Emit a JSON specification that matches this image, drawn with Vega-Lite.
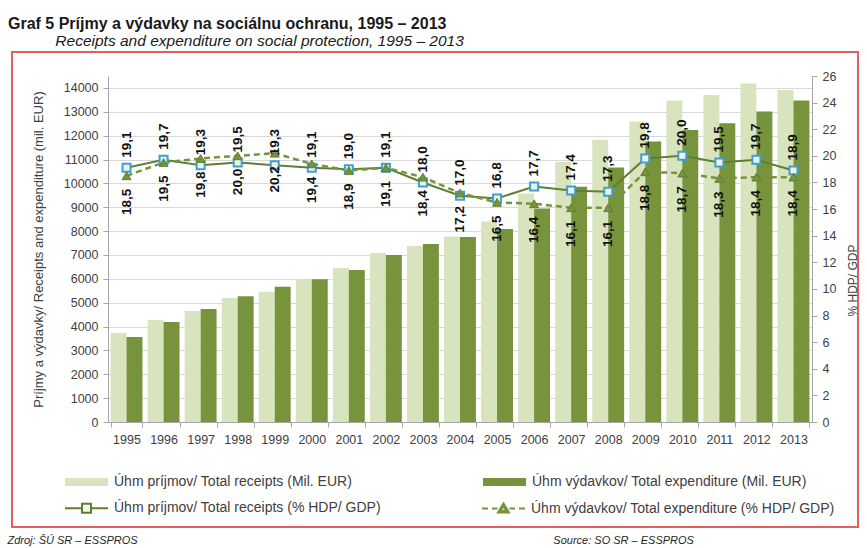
{
  "$schema": "https://vega.github.io/schema/vega-lite/v6.json",
  "width": 846,
  "height": 475,
  "autosize": {"type": "none"},
  "padding": {"left": 12, "top": 52, "right": 9, "bottom": 21},
  "background": "#ffffff",
  "title": {
    "text": "Graf 5 Príjmy a výdavky na sociálnu ochranu, 1995 – 2013",
    "subtitle": "\u200b\u00a0\u00a0\u00a0\u00a0\u00a0\u00a0\u00a0\u00a0\u00a0\u00a0\u00a0Receipts and expenditure on social protection, 1995 – 2013",
    "anchor": "start",
    "frame": "group",
    "dx": -4,
    "offset": 3,
    "font": "Liberation Sans, Arial, sans-serif",
    "fontSize": 16,
    "fontWeight": "bold",
    "color": "#1a1a1a",
    "subtitleFont": "Liberation Sans, Arial, sans-serif",
    "subtitleFontSize": 15.5,
    "subtitleFontStyle": "italic",
    "subtitleColor": "#1a1a1a",
    "subtitlePadding": 2
  },
  "datasets": {
    "money": [
      {"year": "1995", "series": "receipts_mil", "value": 3730},
      {"year": "1995", "series": "expenditure_mil", "value": 3560},
      {"year": "1996", "series": "receipts_mil", "value": 4275},
      {"year": "1996", "series": "expenditure_mil", "value": 4190},
      {"year": "1997", "series": "receipts_mil", "value": 4650},
      {"year": "1997", "series": "expenditure_mil", "value": 4735},
      {"year": "1998", "series": "receipts_mil", "value": 5200},
      {"year": "1998", "series": "expenditure_mil", "value": 5270},
      {"year": "1999", "series": "receipts_mil", "value": 5460},
      {"year": "1999", "series": "expenditure_mil", "value": 5670},
      {"year": "2000", "series": "receipts_mil", "value": 5950},
      {"year": "2000", "series": "expenditure_mil", "value": 5980},
      {"year": "2001", "series": "receipts_mil", "value": 6450},
      {"year": "2001", "series": "expenditure_mil", "value": 6370},
      {"year": "2002", "series": "receipts_mil", "value": 7080},
      {"year": "2002", "series": "expenditure_mil", "value": 7000},
      {"year": "2003", "series": "receipts_mil", "value": 7380},
      {"year": "2003", "series": "expenditure_mil", "value": 7460},
      {"year": "2004", "series": "receipts_mil", "value": 7770},
      {"year": "2004", "series": "expenditure_mil", "value": 7750},
      {"year": "2005", "series": "receipts_mil", "value": 8400},
      {"year": "2005", "series": "expenditure_mil", "value": 8090},
      {"year": "2006", "series": "receipts_mil", "value": 9580},
      {"year": "2006", "series": "expenditure_mil", "value": 8950},
      {"year": "2007", "series": "receipts_mil", "value": 10910},
      {"year": "2007", "series": "expenditure_mil", "value": 9860},
      {"year": "2008", "series": "receipts_mil", "value": 11820},
      {"year": "2008", "series": "expenditure_mil", "value": 10670},
      {"year": "2009", "series": "receipts_mil", "value": 12590},
      {"year": "2009", "series": "expenditure_mil", "value": 11750},
      {"year": "2010", "series": "receipts_mil", "value": 13470},
      {"year": "2010", "series": "expenditure_mil", "value": 12240},
      {"year": "2011", "series": "receipts_mil", "value": 13700},
      {"year": "2011", "series": "expenditure_mil", "value": 12520},
      {"year": "2012", "series": "receipts_mil", "value": 14190},
      {"year": "2012", "series": "expenditure_mil", "value": 13010},
      {"year": "2013", "series": "receipts_mil", "value": 13910},
      {"year": "2013", "series": "expenditure_mil", "value": 13470}
    ],
    "pct": [
      {"year": "1995", "series": "receipts_pct", "value": 19.1},
      {"year": "1995", "series": "expenditure_pct", "value": 18.5},
      {"year": "1996", "series": "receipts_pct", "value": 19.7},
      {"year": "1996", "series": "expenditure_pct", "value": 19.5},
      {"year": "1997", "series": "receipts_pct", "value": 19.3},
      {"year": "1997", "series": "expenditure_pct", "value": 19.8},
      {"year": "1998", "series": "receipts_pct", "value": 19.5},
      {"year": "1998", "series": "expenditure_pct", "value": 20.0},
      {"year": "1999", "series": "receipts_pct", "value": 19.3},
      {"year": "1999", "series": "expenditure_pct", "value": 20.2},
      {"year": "2000", "series": "receipts_pct", "value": 19.1},
      {"year": "2000", "series": "expenditure_pct", "value": 19.4},
      {"year": "2001", "series": "receipts_pct", "value": 19.0},
      {"year": "2001", "series": "expenditure_pct", "value": 18.9},
      {"year": "2002", "series": "receipts_pct", "value": 19.1},
      {"year": "2002", "series": "expenditure_pct", "value": 19.1},
      {"year": "2003", "series": "receipts_pct", "value": 18.0},
      {"year": "2003", "series": "expenditure_pct", "value": 18.4},
      {"year": "2004", "series": "receipts_pct", "value": 17.0},
      {"year": "2004", "series": "expenditure_pct", "value": 17.2},
      {"year": "2005", "series": "receipts_pct", "value": 16.8},
      {"year": "2005", "series": "expenditure_pct", "value": 16.5},
      {"year": "2006", "series": "receipts_pct", "value": 17.7},
      {"year": "2006", "series": "expenditure_pct", "value": 16.4},
      {"year": "2007", "series": "receipts_pct", "value": 17.4},
      {"year": "2007", "series": "expenditure_pct", "value": 16.1},
      {"year": "2008", "series": "receipts_pct", "value": 17.3},
      {"year": "2008", "series": "expenditure_pct", "value": 16.1},
      {"year": "2009", "series": "receipts_pct", "value": 19.8},
      {"year": "2009", "series": "expenditure_pct", "value": 18.8},
      {"year": "2010", "series": "receipts_pct", "value": 20.0},
      {"year": "2010", "series": "expenditure_pct", "value": 18.7},
      {"year": "2011", "series": "receipts_pct", "value": 19.5},
      {"year": "2011", "series": "expenditure_pct", "value": 18.3},
      {"year": "2012", "series": "receipts_pct", "value": 19.7},
      {"year": "2012", "series": "expenditure_pct", "value": 18.4},
      {"year": "2013", "series": "receipts_pct", "value": 18.9},
      {"year": "2013", "series": "expenditure_pct", "value": 18.4}
    ]
  },
  "encoding": {
    "x": {
      "field": "year",
      "type": "ordinal",
      "scale": {"range": [96, 800], "paddingInner": 0.14, "paddingOuter": 0.07},
      "axis": {
        "orient": "bottom",
        "offset": -105,
        "labelAngle": 0,
        "labelFont": "Liberation Sans, Arial, sans-serif",
        "labelFontSize": 12.5,
        "labelColor": "#404040",
        "labelPadding": 6,
        "tickBand": "extent",
        "tickSize": 5,
        "tickColor": "#a6a6a6",
        "domainColor": "#a6a6a6",
        "grid": false,
        "title": "Zdroj: ŠÚ SR – ESSPROS\u00a0\u00a0\u00a0\u00a0\u00a0\u00a0\u00a0\u00a0\u00a0\u00a0\u00a0\u00a0\u00a0\u00a0\u00a0\u00a0\u00a0\u00a0\u00a0\u00a0\u00a0\u00a0\u00a0\u00a0\u00a0\u00a0\u00a0\u00a0\u00a0\u00a0\u00a0\u00a0\u00a0\u00a0\u00a0\u00a0\u00a0\u00a0\u00a0\u00a0\u00a0\u00a0\u00a0\u00a0\u00a0\u00a0\u00a0\u00a0\u00a0\u00a0\u00a0\u00a0\u00a0\u00a0\u00a0\u00a0\u00a0\u00a0\u00a0\u00a0\u00a0\u00a0\u00a0\u00a0\u00a0\u00a0\u00a0\u00a0\u00a0\u00a0\u00a0\u00a0\u00a0\u00a0\u00a0\u00a0\u00a0\u00a0\u00a0\u00a0\u00a0\u00a0\u00a0\u00a0\u00a0\u00a0\u00a0\u00a0\u00a0\u00a0\u00a0\u00a0\u00a0\u00a0\u00a0\u00a0\u00a0\u00a0\u00a0\u00a0\u00a0\u00a0\u00a0\u00a0\u00a0\u00a0\u00a0\u00a0\u00a0\u00a0\u00a0\u00a0\u00a0\u00a0\u00a0\u00a0\u00a0\u00a0\u00a0\u00a0\u00a0\u00a0\u00a0\u00a0\u00a0\u00a0\u00a0\u00a0\u00a0\u00a0\u00a0\u00a0\u00a0\u00a0\u00a0\u00a0Source: SO SR – ESSPROS",
        "titleFont": "Liberation Sans, Arial, sans-serif",
        "titleFontSize": 11,
        "titleFontStyle": "italic",
        "titleFontWeight": "normal",
        "titleColor": "#262626",
        "titleAlign": "left",
        "titleBaseline": "alphabetic",
        "titleX": -5,
        "titleY": 121,
        "titleLimit": 2000
      }
    }
  },
  "layer": [
    {
      "data": {"name": "money"},
      "mark": {"type": "bar"},
      "encoding": {
        "xOffset": {"field": "series", "type": "nominal", "scale": {"domain": ["receipts_mil", "expenditure_mil"], "paddingInner": 0, "paddingOuter": 0}},
        "y": {
          "field": "value",
          "type": "quantitative",
          "stack": null,
          "scale": {"domain": [0, 14500], "range": [370, 24], "nice": false},
          "axis": {
            "orient": "left",
            "offset": -96,
            "values": [0, 1000, 2000, 3000, 4000, 5000, 6000, 7000, 8000, 9000, 10000, 11000, 12000, 13000, 14000],
            "format": "d",
            "grid": true,
            "gridColor": "#d9d9d9",
            "gridWidth": 1,
            "tickSize": 5,
            "tickColor": "#a6a6a6",
            "domainColor": "#a6a6a6",
            "labelFont": "Liberation Sans, Arial, sans-serif",
            "labelFontSize": 12.5,
            "labelColor": "#404040",
            "labelPadding": 5,
            "title": "Príjmy a výdavky/ Receipts and expenditure (mil. EUR)",
            "titleFont": "Liberation Sans, Arial, sans-serif",
            "titleFontSize": 13,
            "titleFontWeight": "normal",
            "titleColor": "#404040",
            "titleAngle": 270,
            "titleX": -70,
            "titleY": 197,
            "titleAlign": "center",
            "titleBaseline": "middle"
          }
        },
        "color": {
          "field": "series",
          "type": "nominal",
          "scale": {
            "domain": ["receipts_mil", "expenditure_mil"],
            "range": ["#d7e4bd", "#77933c"]
          },
          "legend": {
            "orient": "none",
            "legendX": 84,
            "legendY": 423,
            "direction": "horizontal",
            "title": null,
            "padding": 0,
            "symbolType": "M-7.6,-0.8H1V0.8H-7.6Z",
            "symbolSize": 100,
            "symbolStrokeWidth": 0,
            "symbolOpacity": 1,
            "labelOffset": 4,
            "columnPadding": 130,
            "labelFont": "Liberation Sans, Arial, sans-serif",
            "labelFontSize": 14,
            "labelColor": "#404040",
            "labelLimit": 500,
            "labelExpr": "datum.value === 'receipts_mil' ? 'Úhm príjmov/ Total receipts (Mil. EUR)' : 'Úhm výdavkov/ Total expenditure (Mil. EUR)'"
          }
        }
      }
    },
    {
      "data": {"name": "pct"},
      "encoding": {
        "y": {
          "field": "value",
          "type": "quantitative",
          "scale": {"domain": [0, 26], "range": [370, 24], "nice": false},
          "axis": {
            "orient": "right",
            "offset": -46,
            "values": [0, 2, 4, 6, 8, 10, 12, 14, 16, 18, 20, 22, 24, 26],
            "format": "d",
            "grid": false,
            "tickSize": 5,
            "tickColor": "#a6a6a6",
            "domainColor": "#a6a6a6",
            "labelFont": "Liberation Sans, Arial, sans-serif",
            "labelFontSize": 12.5,
            "labelColor": "#404040",
            "labelPadding": 5,
            "title": "% HDP/ GDP",
            "titleFont": "Liberation Sans, Arial, sans-serif",
            "titleFontSize": 12,
            "titleFontWeight": "normal",
            "titleColor": "#404040",
            "titleAngle": 270,
            "titleX": 40,
            "titleY": 228,
            "titleAlign": "center",
            "titleBaseline": "middle"
          }
        }
      },
      "layer": [
        {
          "transform": [{"filter": {"field": "series", "equal": "receipts_pct"}}],
          "mark": {"type": "line", "color": "#5f7f33", "strokeWidth": 2},
          "encoding": {}
        },
        {
          "transform": [{"filter": {"field": "series", "equal": "expenditure_pct"}}],
          "mark": {"type": "line", "color": "#77933c", "strokeWidth": 2.5, "strokeDash": [6, 4]},
          "encoding": {}
        },
        {
          "transform": [{"filter": {"field": "series", "equal": "receipts_pct"}}],
          "mark": {"type": "point", "shape": "square", "filled": true, "fill": "#eef3dc", "stroke": "#3d9fd6", "strokeWidth": 2, "size": 64, "opacity": 1},
          "encoding": {}
        },
        {
          "transform": [{"filter": {"field": "series", "equal": "expenditure_pct"}}],
          "mark": {"type": "point", "shape": "triangle-up", "filled": true, "fill": "#77933c", "stroke": "#5f7f33", "strokeWidth": 1, "size": 80, "opacity": 1},
          "encoding": {}
        },
        {
          "transform": [{"filter": {"field": "series", "equal": "receipts_pct"}}],
          "mark": {"type": "text", "angle": 270, "align": "left", "baseline": "middle", "dx": 10, "font": "Liberation Sans, Arial, sans-serif", "fontSize": 13.5, "fontWeight": "bold", "color": "#111111"},
          "encoding": {"text": {"field": "value", "type": "quantitative", "format": ".1f"}}
        },
        {
          "transform": [{"filter": {"field": "series", "equal": "expenditure_pct"}}],
          "mark": {"type": "text", "angle": 270, "align": "right", "baseline": "middle", "dx": -13, "font": "Liberation Sans, Arial, sans-serif", "fontSize": 13.5, "fontWeight": "bold", "color": "#111111"},
          "encoding": {"text": {"field": "value", "type": "quantitative", "format": ".1f"}}
        },
        {
          "transform": [{"filter": "datum.value < 0"}],
          "mark": {"type": "point", "filled": true, "fill": "#f4f8e8", "strokeWidth": 2, "opacity": 1},
          "encoding": {
            "shape": {
              "field": "series",
              "type": "nominal",
              "scale": {
                "domain": ["receipts_pct", "expenditure_pct"],
                "range": [
                  "M-7.6,0H-4.2M-2.4,0H1M-4.2,-0.9H-2.4V0.9H-4.2Z",
                  "M-7.6,0H-6.4M-5.6,0H-4.5M-4.4,0.8L-3.3,-1L-2.2,0.8ZM-3.9,0.5L-3.3,-0.5L-2.7,0.5ZM-2.1,0H-1M-0.2,0H1"
                ]
              },
              "legend": {
                "orient": "none",
                "legendX": 84,
                "legendY": 449,
                "direction": "horizontal",
                "title": null,
                "padding": 0,
                "symbolSize": 100,
                "symbolStrokeWidth": 2,
                "symbolFillColor": "#f4f8e8",
                "symbolOpacity": 1,
                "labelOffset": 4,
                "columnPadding": 97,
                "labelFont": "Liberation Sans, Arial, sans-serif",
                "labelFontSize": 14,
                "labelColor": "#404040",
                "labelLimit": 500,
                "labelExpr": "datum.value === 'receipts_pct' ? 'Úhm príjmov/ Total receipts (% HDP/ GDP)' : 'Úhm výdavkov/ Total expenditure (% HDP/ GDP)'"
              }
            },
            "stroke": {
              "field": "series",
              "type": "nominal",
              "scale": {
                "domain": ["receipts_pct", "expenditure_pct"],
                "range": ["#5f7f33", "#77933c"]
              },
              "legend": {
                "orient": "none",
                "legendX": 84,
                "legendY": 449,
                "direction": "horizontal",
                "title": null,
                "padding": 0,
                "symbolSize": 100,
                "symbolStrokeWidth": 2,
                "symbolFillColor": "#f4f8e8",
                "symbolOpacity": 1,
                "labelOffset": 4,
                "columnPadding": 97,
                "labelFont": "Liberation Sans, Arial, sans-serif",
                "labelFontSize": 14,
                "labelColor": "#404040",
                "labelLimit": 500,
                "labelExpr": "datum.value === 'receipts_pct' ? 'Úhm príjmov/ Total receipts (% HDP/ GDP)' : 'Úhm výdavkov/ Total expenditure (% HDP/ GDP)'"
              }
            }
          }
        }
      ]
    }
  ],
  "resolve": {"scale": {"y": "independent"}},
  "config": {
    "view": {"stroke": "#e25f5f", "strokeWidth": 2},
    "locale": {"number": {"decimal": ",", "thousands": "\u00a0", "grouping": [3], "currency": ["", "\u00a0€"]}}
  }
}
